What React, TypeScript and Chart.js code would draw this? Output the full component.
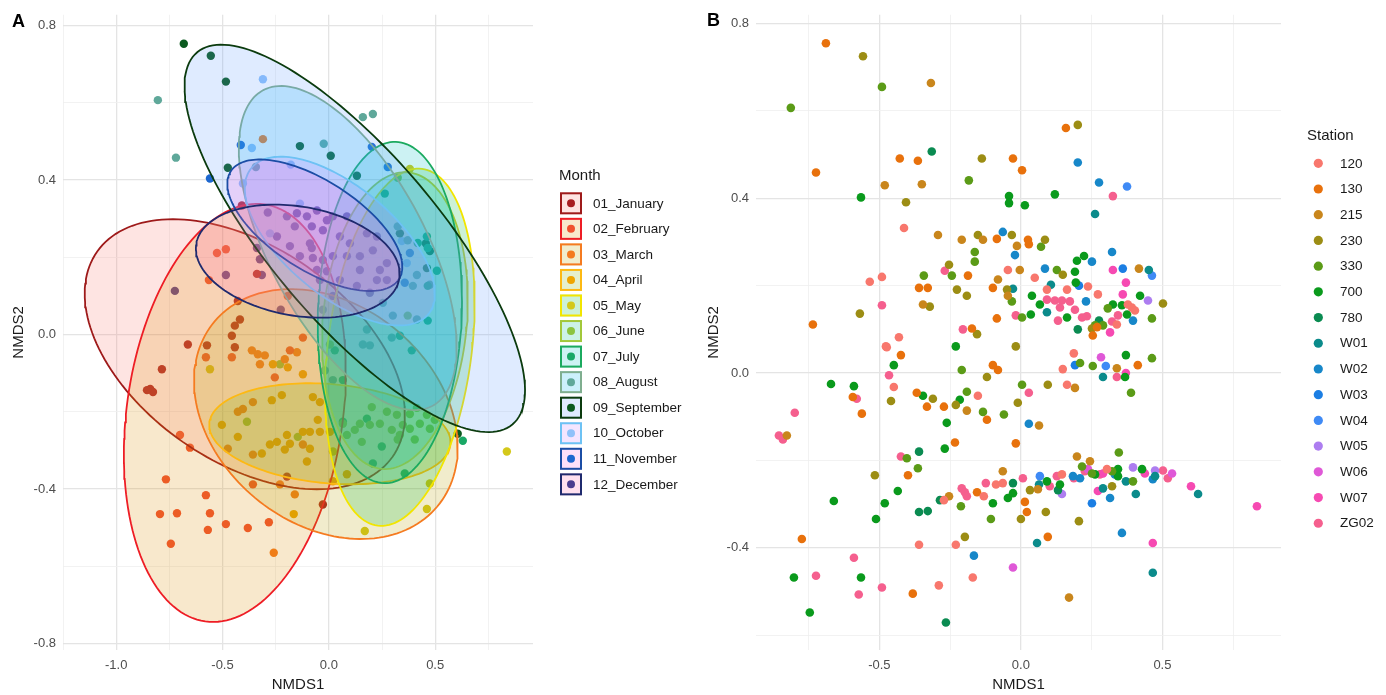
import React, { useEffect, useRef } from 'react';
import { Chart, registerables } from 'chart.js';

Chart.register(...registerables);

const FONT = "'Liberation Sans', Arial, Helvetica, sans-serif";

// ---------------- Panel A : NMDS by month ----------------
const MONTHS = ['01_January', '02_February', '03_March', '04_April', '05_May', '06_June', '07_July', '08_August', '09_September', '10_October', '11_November', '12_December'];
const MONTH_POINT_COLORS = ['#A81E22', '#F0512F', '#F47A1F', '#F0A500', '#D4C81A', '#8CC43F', '#19A866', '#5FA89A', '#0B5A1F', '#8FC1FA', '#1D67CF', '#4A3D8F'];
const MONTH_STROKE_COLORS = ['#9E1A1A', '#EE1D25', '#F57B20', '#FDB913', '#F2E500', '#A2C83A', '#1BAA5F', '#7FAE8F', '#0B3B0E', '#6DC2F4', '#1B4DA5', '#1F2A6E'];
const MONTH_FILL_COLORS = ['#F8766D', '#DE8C00', '#B79F00', '#7CAE00', '#00BA38', '#00C08B', '#00BFC4', '#00B4F0', '#619CFF', '#C77CFF', '#F564E3', '#FF64B0'];

const JAN = [[-0.785, -0.09], [-0.84, -0.141], [-0.827, -0.149], [-0.855, -0.144], [-0.663, -0.026], [-0.573, -0.028], [-0.442, -0.033], [-0.428, 0.087], [-0.442, 0.023], [-0.338, 0.157], [-0.028, -0.44], [-0.418, 0.039], [-0.197, -0.368], [-0.456, -0.003], [-0.409, 0.334]];
const FEB = [[-0.526, 0.211], [-0.484, 0.221], [-0.564, 0.141], [-0.193, 0.1], [-0.7, -0.26], [-0.653, -0.293], [-0.766, -0.375], [-0.794, -0.465], [-0.714, -0.463], [-0.578, -0.416], [-0.559, -0.463], [-0.569, -0.506], [-0.484, -0.491], [-0.381, -0.501], [-0.282, -0.486], [-0.743, -0.542], [-0.357, -0.388], [-0.578, -0.059], [-0.456, -0.059], [-0.183, -0.041], [-0.122, -0.008], [-0.254, -0.111]];
const MAR = [[-0.334, -0.051], [-0.301, -0.054], [-0.362, -0.041], [-0.207, -0.064], [-0.15, -0.046], [-0.23, -0.388], [-0.16, -0.414], [-0.259, -0.565], [-0.357, -0.311], [-0.475, -0.296], [-0.404, -0.193], [-0.428, -0.2], [-0.357, -0.175], [-0.122, -0.285], [-0.31, 0.506], [-0.324, -0.077]];
const APR = [[-0.263, -0.077], [-0.193, -0.085], [-0.122, -0.103], [-0.221, -0.157], [-0.268, -0.17], [-0.503, -0.234], [-0.428, -0.265], [-0.315, -0.308], [-0.277, -0.285], [-0.244, -0.278], [-0.197, -0.26], [-0.183, -0.283], [-0.122, -0.252], [-0.089, -0.252], [-0.042, -0.252], [-0.207, -0.298], [-0.089, -0.296], [-0.103, -0.329], [-0.052, -0.221], [-0.165, -0.465], [0.019, -0.38], [0.085, -0.362], [-0.042, -0.175], [-0.075, -0.162], [0.005, -0.252]];
const MAY = [[0.381, 0.429], [0.837, -0.303], [-0.559, -0.09], [0.169, -0.509], [0.461, -0.452], [0.475, -0.386], [0.019, -0.303]];
const JUN = [[0.324, 0.406], [0.202, -0.188], [0.273, -0.2], [0.32, -0.208], [0.381, -0.206], [0.461, -0.208], [0.498, -0.221], [0.428, -0.231], [0.348, -0.234], [0.296, -0.247], [0.24, -0.231], [0.193, -0.234], [0.146, -0.231], [0.122, -0.247], [0.085, -0.26], [0.334, -0.26], [0.404, -0.272], [0.324, -0.272], [0.381, -0.244], [0.475, -0.244], [0.414, -0.19], [-0.385, -0.226], [-0.146, -0.265], [-0.23, -0.077], [0.371, 0.049], [0.005, -0.026], [0.066, -0.231], [0.155, -0.278]];
const JUL = [[0.418, 0.237], [0.461, 0.254], [0.465, 0.224], [0.508, 0.165], [0.465, 0.126], [0.465, 0.036], [0.028, -0.041], [0.39, -0.041], [0.066, -0.118], [0.249, -0.29], [0.63, -0.275], [0.357, -0.36], [0.207, -0.334], [0.066, -0.226], [0.179, -0.218], [0.334, -0.003], [0.263, 0.365]];
const AUG = [[-0.804, 0.607], [-0.719, 0.458], [-0.024, 0.494], [0.16, 0.563], [0.207, 0.571], [0.324, 0.28], [0.371, 0.244], [0.414, 0.154], [0.395, 0.126], [0.475, 0.129], [0.254, 0.082], [0.301, 0.049], [0.179, 0.013], [0.296, -0.008], [0.16, -0.026], [0.193, -0.028], [0.019, -0.118], [-0.019, -0.093], [-0.028, 0.064], [0.414, 0.039], [-0.343, 0.434]];
const SEP = [[-0.682, 0.753], [-0.555, 0.722], [-0.484, 0.655], [-0.136, 0.488], [0.009, 0.463], [-0.475, 0.432], [0.132, 0.411], [0.456, 0.236], [0.475, 0.216], [0.461, 0.172], [0.606, -0.257], [0.334, 0.262]];
const OCT = [[-0.31, 0.661], [-0.362, 0.483], [-0.404, 0.391], [-0.179, 0.44], [0.343, 0.242], [0.367, 0.185], [-0.136, 0.339], [-0.277, 0.262]];
const NOV = [[-0.414, 0.491], [-0.559, 0.404], [0.202, 0.486], [0.277, 0.434], [0.381, 0.211], [0.357, 0.134]];
const DEC = [[-0.724, 0.113], [-0.484, 0.154], [-0.287, 0.316], [-0.197, 0.306], [-0.15, 0.314], [-0.056, 0.321], [-0.009, 0.296], [-0.103, 0.306], [-0.16, 0.28], [-0.08, 0.28], [-0.028, 0.27], [-0.244, 0.254], [-0.183, 0.229], [-0.08, 0.224], [-0.136, 0.203], [-0.075, 0.198], [-0.028, 0.193], [-0.009, 0.164], [-0.056, 0.167], [-0.338, 0.224], [-0.324, 0.195], [-0.315, 0.154], [-0.226, 0.064], [0.019, 0.306], [0.085, 0.306], [0.052, 0.254], [0.099, 0.236], [0.179, 0.262], [0.226, 0.254], [0.207, 0.218], [0.146, 0.203], [0.085, 0.203], [0.019, 0.203], [-0.089, 0.236], [0.146, 0.167], [0.24, 0.167], [0.273, 0.185], [0.226, 0.141], [0.132, 0.126], [0.052, 0.141], [-0.042, 0.141], [0.019, 0.1], [0.273, 0.141], [0.193, 0.108]];
const MONTH_POINTS = [JAN, FEB, MAR, APR, MAY, JUN, JUL, AUG, SEP, OCT, NOV, DEC];

// 95% ellipses: centre and two conjugate semi-axis vectors (data units)
const ELLIPSE_CX = [-0.395, -0.442, -0.014, 0.005, 0.334, 0.311, 0.287, 0.089, 0.122, 0.052, -0.066, -0.146];
const ELLIPSE_CY = [-0.051, -0.203, -0.206, -0.257, -0.033, 0.036, 0.057, 0.224, 0.249, 0.242, 0.283, 0.19];
const ELLIPSE_UX = [0.694, -0.139, 0.523, 0.567, -0.104, -0.061, -0.028, 0.397, 0.741, 0.415, 0.395, 0.477];
const ELLIPSE_UY = [-0.266, -0.54, -0.24, -0.027, -0.462, -0.384, -0.442, -0.409, -0.482, -0.19, -0.14, -0.046];
const ELLIPSE_VX = [-0.292, -0.503, -0.333, -0.02, -0.336, -0.337, -0.338, -0.324, -0.303, -0.166, -0.115, -0.045];
const ELLIPSE_VY = [-0.227, 0.039, -0.217, -0.128, 0.023, 0.016, 0.006, -0.094, -0.139, -0.108, -0.097, -0.139];

const A_X_TICKS = [-1.25, -1, -0.75, -0.5, -0.25, 0, 0.25, 0.5, 0.75];
const A_X_LABELED = [-1, -0.5, 0, 0.5];
const A_Y_TICKS = [-0.8, -0.6, -0.4, -0.2, 0, 0.2, 0.4, 0.6, 0.8];
const A_Y_LABELED = [-0.8, -0.4, 0, 0.4, 0.8];
const A_X_RANGE = [-1.25, 0.96];
const A_Y_RANGE = [-0.817, 0.828];

// ---------------- Panel B : NMDS by station ----------------
const STATIONS = ['120', '130', '215', '230', '330', '700', '780', 'W01', 'W02', 'W03', 'W04', 'W05', 'W06', 'W07', 'ZG02'];
const STATION_COLORS = ['#F8776D', '#E8710C', '#C9861C', '#9C8D14', '#5B9B17', '#0A9A1C', '#0A8B51', '#0B8B8B', '#1787C9', '#1B7EE3', '#3F8AF5', '#AD7DF0', '#DF58D7', '#F64AB2', '#F55F8E'];

const S120 = [[-0.413, 0.332], [-0.046, 0.236], [0.049, 0.218], [-0.534, 0.209], [-0.491, 0.22], [0.092, 0.191], [-0.431, 0.082], [-0.477, 0.061], [0.237, 0.198], [0.163, 0.191], [0.272, 0.18], [0.392, 0.15], [0.403, 0.143], [0.378, 0.157], [0.339, 0.111], [0.187, 0.045], [0.148, 0.009], [0.163, -0.027], [0.145, -0.232], [0.304, -0.22], [-0.474, 0.059], [-0.449, -0.032], [-0.152, -0.052], [-0.272, -0.291], [-0.131, -0.282], [-0.088, -0.255], [-0.064, -0.252], [-0.23, -0.393], [-0.36, -0.393], [-0.29, -0.486], [-0.17, -0.468]];
const S130 = [[-0.689, 0.755], [-0.428, 0.491], [-0.364, 0.486], [-0.028, 0.491], [0.004, 0.464], [-0.724, 0.459], [-0.085, 0.307], [0.025, 0.305], [0.028, 0.295], [-0.187, 0.223], [-0.36, 0.195], [-0.329, 0.195], [-0.099, 0.195], [-0.735, 0.111], [-0.085, 0.125], [-0.173, 0.102], [0.159, 0.561], [0.269, 0.105], [0.254, 0.086], [0.413, 0.018], [-0.018, -0.161], [-0.424, 0.041], [-0.099, 0.018], [-0.081, 0.007], [-0.594, -0.055], [-0.562, -0.093], [-0.368, -0.045], [-0.332, -0.077], [-0.272, -0.077], [-0.12, -0.107], [-0.233, -0.159], [-0.399, -0.234], [-0.155, -0.273], [0.014, -0.295], [0.021, -0.318], [0.095, -0.375], [-0.774, -0.38], [-0.382, -0.505]];
const S215 = [[-0.318, 0.664], [-0.481, 0.43], [-0.35, 0.432], [-0.293, 0.316], [-0.134, 0.305], [-0.209, 0.305], [-0.014, 0.291], [-0.081, 0.214], [-0.004, 0.236], [-0.046, 0.177], [-0.346, 0.157], [0.417, 0.239], [0.339, 0.011], [0.191, -0.034], [0.064, -0.12], [0.198, -0.191], [0.244, -0.202], [-0.064, -0.225], [0.06, -0.266], [-0.191, -0.086], [-0.827, -0.143], [-0.254, -0.282], [0.17, -0.514]];
const S230 = [[-0.558, 0.725], [-0.138, 0.491], [-0.406, 0.391], [-0.152, 0.316], [-0.032, 0.316], [-0.254, 0.248], [-0.226, 0.191], [-0.191, 0.177], [-0.049, 0.191], [-0.322, 0.152], [-0.569, 0.136], [-0.155, 0.089], [-0.018, 0.061], [0.201, 0.568], [0.148, 0.225], [0.085, 0.305], [0.251, 0.102], [0.095, -0.027], [-0.011, -0.068], [0.322, -0.259], [0, -0.334], [0.088, -0.318], [0.205, -0.339], [-0.12, -0.009], [-0.459, -0.064], [-0.311, -0.059], [-0.23, -0.073], [-0.516, -0.234], [-0.198, -0.375], [0.032, -0.268], [0.502, 0.159]];
const S330 = [[-0.491, 0.655], [-0.813, 0.607], [-0.184, 0.441], [-0.163, 0.277], [-0.163, 0.255], [-0.244, 0.223], [-0.343, 0.223], [-0.032, 0.164], [0.004, 0.127], [0.071, 0.289], [0.127, 0.236], [0.307, 0.148], [0.262, 0.109], [0.29, 0.109], [0.463, 0.125], [0.209, 0.023], [0.254, 0.016], [0.463, 0.034], [0.389, -0.045], [0.004, -0.027], [-0.06, -0.095], [0.346, -0.182], [0.216, -0.214], [0.251, -0.23], [0.322, -0.225], [0.396, -0.248], [-0.209, 0.007], [-0.191, -0.043], [-0.134, -0.089], [-0.403, -0.195], [-0.364, -0.218], [-0.212, -0.305], [-0.106, -0.334]];
const S700 = [[-0.565, 0.402], [-0.042, 0.405], [-0.042, 0.389], [0.014, 0.384], [0.039, 0.177], [0.067, 0.157], [0.035, 0.134], [-0.23, 0.061], [0.12, 0.409], [0.198, 0.257], [0.223, 0.268], [0.191, 0.232], [0.194, 0.207], [0.421, 0.177], [0.325, 0.157], [0.357, 0.155], [0.375, 0.134], [0.163, 0.127], [0.371, 0.041], [0.368, -0.009], [0.092, -0.248], [0.138, -0.255], [0.262, -0.232], [0.343, -0.22], [0.343, -0.236], [0.428, -0.22], [-0.449, 0.018], [-0.671, -0.025], [-0.59, -0.03], [-0.346, -0.052], [-0.216, -0.061], [-0.262, -0.114], [-0.269, -0.173], [-0.435, -0.27], [-0.481, -0.298], [-0.512, -0.334], [-0.661, -0.293], [-0.099, -0.298], [-0.046, -0.286], [-0.028, -0.275], [-0.802, -0.468], [-0.565, -0.468], [-0.746, -0.548]];
const S780 = [[-0.315, 0.507], [0.276, 0.12], [0.201, 0.1], [0.131, -0.268], [-0.36, -0.18], [-0.36, -0.318], [-0.329, -0.316], [-0.286, -0.291], [-0.028, -0.252], [-0.265, -0.571]];
const SW01 = [[-0.028, 0.193], [0.092, 0.139], [0.106, 0.202], [0.452, 0.236], [0.262, 0.364], [0.29, -0.009], [0.064, -0.255], [0.29, -0.264], [0.371, -0.248], [0.406, -0.277], [0.474, -0.236], [0.626, -0.277], [0.057, -0.389], [0.466, -0.457]];
const SW02 = [[-0.064, 0.323], [-0.021, 0.27], [0.085, 0.239], [0.201, 0.482], [0.276, 0.436], [0.322, 0.277], [0.251, 0.255], [0.23, 0.164], [0.396, 0.12], [0.028, -0.116], [0.184, -0.236], [0.209, -0.241], [0.332, -0.232], [0.466, -0.243], [0.315, -0.286], [-0.166, -0.418], [0.357, -0.366]];
const SW03 = [[0.205, 0.2], [0.36, 0.239], [0.191, 0.018], [0.251, -0.298]];
const SW04 = [[0.375, 0.427], [0.463, 0.223], [0.3, 0.016], [0.067, -0.236]];
const SW05 = [[0.449, 0.166], [0.145, -0.277], [0.396, -0.216], [0.474, -0.223]];
const SW06 = [[0.283, 0.036], [0.237, -0.22], [0.534, -0.23], [-0.028, -0.445]];
const SW07 = [[0.325, 0.236], [0.371, 0.207], [0.36, 0.18], [0.315, 0.093], [0.371, 0], [0.29, -0.23], [0.272, -0.27], [0.438, -0.23], [0.601, -0.259], [0.834, -0.305], [0.466, -0.389]];
const SZG02 = [[-0.269, 0.234], [-0.491, 0.155], [-0.018, 0.132], [-0.205, 0.1], [0.092, 0.168], [0.325, 0.405], [0.12, 0.166], [0.145, 0.166], [0.173, 0.164], [0.138, 0.15], [0.343, 0.132], [0.191, 0.145], [0.216, 0.127], [0.233, 0.13], [0.131, 0.12], [0.322, 0.118], [0.339, -0.009], [0.028, -0.045], [0.007, -0.241], [0.102, -0.259], [0.127, -0.236], [0.187, -0.241], [0.226, -0.225], [0.279, -0.232], [0.502, -0.223], [0.519, -0.241], [-0.466, -0.005], [-0.58, -0.059], [-0.799, -0.091], [-0.855, -0.143], [-0.841, -0.152], [-0.424, -0.191], [-0.209, -0.264], [-0.198, -0.273], [-0.191, -0.282], [-0.124, -0.252], [-0.59, -0.423], [-0.724, -0.464], [-0.491, -0.491], [-0.573, -0.507]];
const STATION_POINTS = [S120, S130, S215, S230, S330, S700, S780, SW01, SW02, SW03, SW04, SW05, SW06, SW07, SZG02];

const B_X_TICKS = [-0.75, -0.5, -0.25, 0, 0.25, 0.5, 0.75];
const B_X_LABELED = [-0.5, 0, 0.5];
const B_Y_TICKS = [-0.6, -0.4, -0.2, 0, 0.2, 0.4, 0.6, 0.8];
const B_Y_LABELED = [-0.4, 0, 0.4, 0.8];
const B_X_RANGE = [-0.936, 0.919];
const B_Y_RANGE = [-0.634, 0.82];

// ---------------- helpers ----------------
function hexA(hex: string, a: number) {
  const n = parseInt(hex.slice(1), 16);
  return `rgba(${(n >> 16) & 255},${(n >> 8) & 255},${n & 255},${a})`;
}
const isIn = (list: number[], v: number) => list.some((m) => Math.abs(m - v) < 1e-6);

function ellipseOutline(i: number) {
  const pts: { x: number; y: number }[] = [];
  const N = 160;
  for (let k = 0; k <= N; k++) {
    const t = (2 * Math.PI * k) / N;
    pts.push({
      x: ELLIPSE_CX[i] + ELLIPSE_UX[i] * Math.cos(t) + ELLIPSE_VX[i] * Math.sin(t),
      y: ELLIPSE_CY[i] + ELLIPSE_UY[i] * Math.cos(t) + ELLIPSE_VY[i] * Math.sin(t),
    });
  }
  return pts;
}

function axis(range: number[], ticks: number[], labeled: number[], title: string, horizontal: boolean, size: number, titlePad: number) {
  return {
    type: 'linear',
    min: range[0],
    max: range[1],
    afterBuildTicks: (s: any) => {
      s.ticks = ticks.map((v) => ({ value: v }));
    },
    afterFit: (s: any) => {
      if (horizontal) s.height = size;
      else s.width = size;
    },
    border: { display: false },
    grid: {
      drawTicks: false,
      color: (c: any) => (c.tick && isIn(labeled, c.tick.value) ? '#e4e4e4' : '#efefef'),
      lineWidth: (c: any) => (c.tick && isIn(labeled, c.tick.value) ? 1.3 : 0.8),
    },
    ticks: {
      padding: horizontal ? 8 : 7,
      color: '#4d4d4d',
      font: { family: FONT, size: 13 },
      maxRotation: 0,
      autoSkip: false,
      callback: (v: any) => (isIn(labeled, Number(v)) ? Number(v).toFixed(1) : ''),
    },
    title: {
      display: true,
      text: title,
      color: '#1a1a1a',
      font: { family: FONT, size: 15 },
      padding: horizontal ? { top: 0, bottom: 1 } : { top: titlePad, bottom: 0 },
    },
  };
}

function panelLabelPlugin(text: string, x: number, y: number) {
  return {
    id: 'panelLabel' + text,
    afterDraw(chart: any) {
      const ctx = chart.ctx;
      ctx.save();
      ctx.font = `bold 18px ${FONT}`;
      ctx.fillStyle = '#000';
      ctx.textAlign = 'left';
      ctx.textBaseline = 'middle';
      ctx.fillText(text, x, y);
      ctx.restore();
    },
  };
}

const monthLegendPlugin = {
  id: 'monthLegend',
  afterDraw(chart: any) {
    const ctx = chart.ctx;
    ctx.save();
    ctx.textBaseline = 'middle';
    ctx.textAlign = 'left';
    ctx.fillStyle = '#1a1a1a';
    ctx.font = `15px ${FONT}`;
    ctx.fillText('Month', 559, 176);
    ctx.font = `13.5px ${FONT}`;
    MONTHS.forEach((m, i) => {
      const cy = 203.3 + i * 25.55;
      ctx.fillStyle = '#ffffff';
      ctx.fillRect(560, cy - 11, 22, 22);
      ctx.fillStyle = hexA(MONTH_FILL_COLORS[i], 0.2);
      ctx.fillRect(560, cy - 11, 22, 22);
      ctx.lineWidth = 2;
      ctx.strokeStyle = MONTH_STROKE_COLORS[i];
      ctx.strokeRect(561, cy - 10, 20, 20);
      ctx.beginPath();
      ctx.arc(571, cy, 4, 0, Math.PI * 2);
      ctx.fillStyle = MONTH_POINT_COLORS[i];
      ctx.fill();
      ctx.fillStyle = '#1a1a1a';
      ctx.fillText(m, 593, cy + 0.5);
    });
    ctx.restore();
  },
};

const stationLegendPlugin = {
  id: 'stationLegend',
  afterDraw(chart: any) {
    const ctx = chart.ctx;
    ctx.save();
    ctx.textBaseline = 'middle';
    ctx.textAlign = 'left';
    ctx.fillStyle = '#1a1a1a';
    ctx.font = `15px ${FONT}`;
    ctx.fillText('Station', 607, 136);
    ctx.font = `13.5px ${FONT}`;
    STATIONS.forEach((s, i) => {
      const cy = 163.3 + i * 25.71;
      ctx.beginPath();
      ctx.arc(618.3, cy, 4.6, 0, Math.PI * 2);
      ctx.fillStyle = STATION_COLORS[i];
      ctx.fill();
      ctx.fillStyle = '#1a1a1a';
      ctx.fillText(s, 640, cy + 0.5);
    });
    ctx.restore();
  },
};

function configA(): any {
  const pointSets = MONTHS.map((m, i) => ({
    type: 'scatter',
    label: m,
    data: MONTH_POINTS[i].map(([x, y]) => ({ x, y })),
    backgroundColor: MONTH_POINT_COLORS[i],
    borderWidth: 0,
    pointRadius: 4.2,
    pointHoverRadius: 4.2,
    order: 100,
  }));
  const ellipseSets = MONTHS.map((m, i) => ({
    type: 'line',
    label: m + ' ellipse',
    data: ellipseOutline(i),
    borderColor: MONTH_STROKE_COLORS[i],
    backgroundColor: hexA(MONTH_FILL_COLORS[i], 0.2),
    borderWidth: 1.8,
    pointRadius: 0,
    pointHoverRadius: 0,
    tension: 0,
    fill: 'shape',
    order: 50 - i,
  }));
  return {
    type: 'scatter',
    data: { datasets: [...ellipseSets, ...pointSets] },
    options: {
      responsive: false,
      animation: false,
      events: [],
      layout: { padding: { left: 0, right: 167, top: 10, bottom: 0 } },
      plugins: { legend: { display: false }, tooltip: { enabled: false } },
      scales: {
        x: axis(A_X_RANGE, A_X_TICKS, A_X_LABELED, 'NMDS1', true, 45, 0),
        y: axis(A_Y_RANGE, A_Y_TICKS, A_Y_LABELED, 'NMDS2', false, 63, 10),
      },
    },
    plugins: [monthLegendPlugin, panelLabelPlugin('A', 12, 22)],
  };
}

function configB(): any {
  const sets = STATIONS.map((s, i) => ({
    type: 'scatter',
    label: s,
    data: STATION_POINTS[i].map(([x, y]) => ({ x, y })),
    backgroundColor: STATION_COLORS[i],
    borderWidth: 0,
    pointRadius: 4.3,
    pointHoverRadius: 4.3,
  }));
  return {
    type: 'scatter',
    data: { datasets: sets },
    options: {
      responsive: false,
      animation: false,
      events: [],
      layout: { padding: { left: 0, right: 105, top: 10, bottom: 0 } },
      plugins: { legend: { display: false }, tooltip: { enabled: false } },
      scales: {
        x: axis(B_X_RANGE, B_X_TICKS, B_X_LABELED, 'NMDS1', true, 45, 0),
        y: axis(B_Y_RANGE, B_Y_TICKS, B_Y_LABELED, 'NMDS2', false, 56, 5),
      },
    },
    plugins: [stationLegendPlugin, panelLabelPlugin('B', 7, 21)],
  };
}

export default function App() {
  const refA = useRef<HTMLCanvasElement>(null);
  const refB = useRef<HTMLCanvasElement>(null);
  useEffect(() => {
    document.body.style.margin = '0';
    const a = new Chart(refA.current as HTMLCanvasElement, configA());
    const b = new Chart(refB.current as HTMLCanvasElement, configB());
    return () => {
      a.destroy();
      b.destroy();
    };
  }, []);
  return (
    <div style={{ position: 'relative', width: 1386, height: 695, background: '#ffffff', overflow: 'hidden' }}>
      <canvas ref={refA} width={700} height={695} style={{ position: 'absolute', left: 0, top: 0 }} />
      <canvas ref={refB} width={686} height={695} style={{ position: 'absolute', left: 700, top: 0 }} />
    </div>
  );
}
